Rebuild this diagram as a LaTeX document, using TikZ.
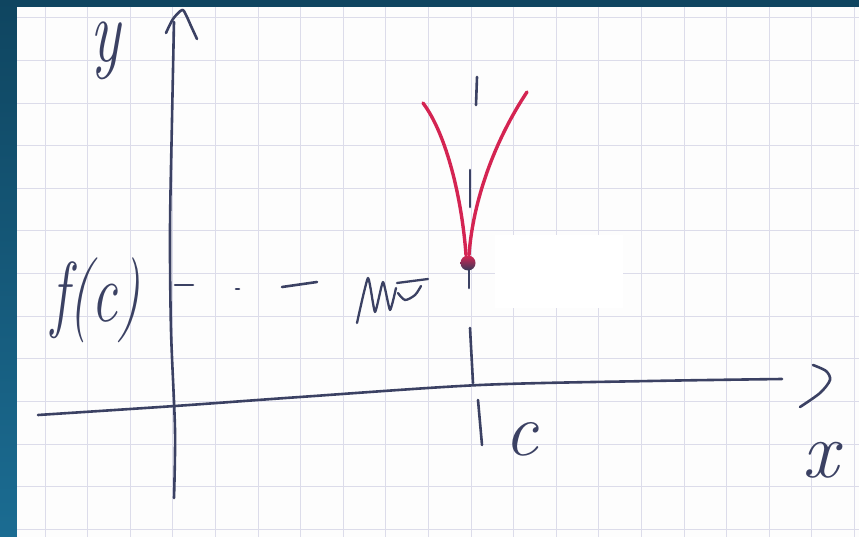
\documentclass[tikz,border=0pt]{standalone}
\usepackage{fontspec}
\usepackage{graphicx}
\definecolor{pen}{HTML}{3B4163}
\definecolor{redpen}{HTML}{D42452}
\definecolor{gridc}{HTML}{DCDCEA}
\definecolor{frameA}{HTML}{0F4560}
\definecolor{frameB}{HTML}{1B6C92}
\definecolor{paper}{HTML}{FDFDFD}
\begin{document}
\begin{tikzpicture}[x=1pt,y=-1pt,
  penline/.style={draw=pen,line width=2.6pt,line cap=round,line join=round},
  redline/.style={draw=redpen,line width=3.4pt,line cap=round},
  gridline/.style={draw=gridc,line width=1pt},
  lbl/.style={text=pen,inner sep=0pt}]
\useasboundingbox (0,0) rectangle (859,537);
% frame
\shade[top color=frameA,bottom color=frameB] (0,0) rectangle (859,537);
\fill[paper] (17,7) rectangle (859,537);
% grid
\foreach \k in {0,...,19} \draw[gridline] ({45+42.6*\k},7) -- ({45+42.6*\k},537);
\foreach \k in {0,...,12} \draw[gridline] (17,{18+42.6*\k}) -- (859,{18+42.6*\k});
% erased patch
\fill[white] (495,235) rectangle (623,308);
% y axis
\draw[penline] plot[smooth] coordinates {(174,22) (172,120) (170,230) (171,330) (175,430) (174,498)};
\draw[penline] plot[smooth] coordinates {(166,33) (173,19) (182,10) (186,15) (191,26) (197,39)};
% x axis
\draw[penline] plot[smooth] coordinates {(38,415) (175,406) (300,397) (480,385) (650,381) (782,379)};
\draw[penline] plot[smooth] coordinates {(813,365) (826,371) (830,380) (820,393) (800,407)};
% dashed level f(c)
\draw[penline] (175,285) -- (193,285);
\draw[penline] (236,289) -- (239,289);
\draw[penline] (282,287) -- (317,282);
% scribble
\draw[penline,line width=2.3pt] plot[smooth,tension=0.3] coordinates {(357,323) (368,278) (375,312) (383,282) (390,310) (396,288)};
\draw[penline,line width=2.3pt] plot[smooth] coordinates {(398,293) (405,300) (415,295) (421,286)};
\draw[penline,line width=2.3pt] (397,283) -- (428,279);
% vertical dashes at c
\draw[penline] (477,77) -- (476,105);
\draw[penline] (470,170) -- (470,207);
\draw[penline] (469,270) -- (469,288);
\draw[penline] (470,328) -- (473,383);
\draw[penline] (478,400) -- (482,445);
% red cusp
\draw[redline] (423,103) .. controls (447,135) and (462,200) .. (466,255);
\draw[redline] (527,92) .. controls (495,140) and (473,200) .. (469,255);
\shade[top color=redpen,bottom color=pen!90!black] (468,263) circle (7.5);
% labels
\node[lbl] (ylab) at (105,51) {\fontsize{90}{90}\selectfont\itshape\scalebox{0.7}[1]{y}};
\node[lbl] (fclab) at (96,300) {\fontsize{85}{85}\selectfont\itshape\scalebox{0.68}[1]{f(c)}};
\node[lbl] (clab) at (521,439) {\fontsize{75}{75}\selectfont\itshape c};
\node[lbl] (xlab) at (820,460) {\fontsize{80}{80}\selectfont\itshape x};
\end{tikzpicture}
\end{document}
